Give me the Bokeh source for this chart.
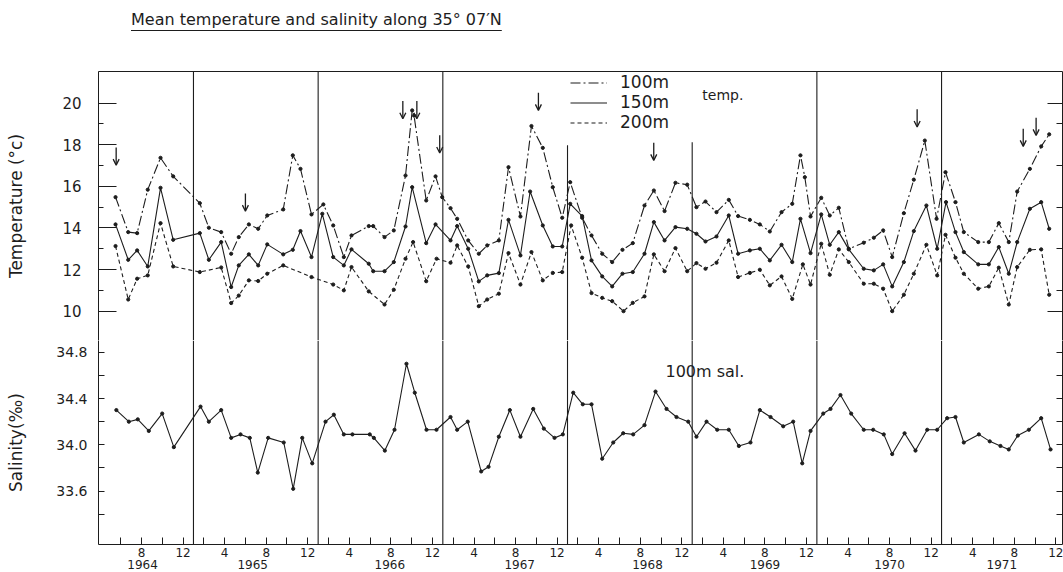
from bokeh.plotting import figure
from bokeh.layouts import column
from bokeh.models import (Range1d, LinearAxis, FixedTicker, CustomJSTickFormatter,
                          PrintfTickFormatter, Label, Legend, LegendItem, Arrow,
                          OpenHead, ColumnDataSource, Div)
from bokeh.embed import file_html
from bokeh.resources import INLINE

# Time is counted in months: 1 = Jan 1964, 13 = Jan 1965, ... 96 = Dec 1971.

# ---- 100 m temperature (deg C) ----
months_100 = [5.50, 6.72, 7.58, 8.60, 9.83, 11.05, 13.61, 14.48, 15.67, 16.63, 17.36, 18.33,
              19.23, 20.10, 21.64, 22.56, 23.30, 24.36, 25.50, 26.45, 27.47, 28.21, 29.87, 30.30,
              31.39, 32.28, 33.41, 34.05, 34.23, 35.40, 36.30, 36.94, 37.74, 38.38, 39.44, 40.46,
              41.27, 42.39, 43.32, 44.47, 45.53, 46.62, 47.58, 48.49, 49.26, 50.41, 51.31, 52.34,
              53.30, 54.29, 55.28, 56.41, 57.31, 58.34, 59.39, 60.52, 61.41, 62.28, 63.34, 64.52,
              65.42, 66.55, 67.51, 68.47, 69.60, 70.63, 71.42, 71.84, 72.39, 73.42, 74.24, 75.11,
              76.07, 77.51, 78.48, 79.38, 80.25, 81.37, 82.33, 83.39, 84.52, 85.38, 86.34,
              87.14, 88.53, 89.55, 90.51, 91.47, 92.28, 93.50, 94.59, 95.36]
temp_100 = [15.48, 13.80, 13.75, 15.84, 17.37, 16.48, 15.19, 14.01, 13.80, 12.76, 13.56, 14.17,
            13.96, 14.60, 14.89, 17.49, 16.84, 14.65, 15.13, 14.12, 12.60, 13.64, 14.09, 14.09,
            13.56, 13.88, 16.52, 19.65, 19.40, 15.32, 16.48, 15.48, 14.95, 14.44, 13.40, 12.76,
            13.16, 13.40, 16.92, 14.55, 18.90, 17.85, 15.96, 14.49, 16.20, 14.49, 13.64, 12.76,
            12.36, 12.95, 13.27, 15.08, 15.80, 14.81, 16.17, 16.08, 15.00, 15.27, 14.76, 15.35,
            14.57, 14.39, 14.17, 13.83, 14.76, 15.16, 17.49, 16.44, 14.55, 15.45, 14.60, 14.97,
            13.00, 13.29, 13.53, 13.88, 12.60, 14.71, 16.32, 18.20, 14.44, 16.68, 15.24,
            13.80, 13.32, 13.32, 14.23, 13.32, 15.75, 16.84, 17.92, 18.50]

# ---- 150 m temperature (deg C) ----
months_150 = [5.50, 6.72, 7.58, 8.60, 9.83, 11.05, 13.61, 14.48, 15.67, 16.63, 17.36, 18.33,
              19.23, 20.10, 21.64, 22.56, 23.30, 24.36, 25.40, 26.45, 27.47, 28.21, 29.87, 30.30,
              31.39, 32.28, 33.41, 34.05, 35.40, 36.30, 37.74, 38.38, 39.44, 40.46, 41.27, 42.39,
              43.32, 44.47, 45.40, 46.62, 47.58, 48.49, 49.26, 50.41, 51.31, 52.34, 53.30, 54.29,
              55.28, 56.41, 57.31, 58.34, 59.39, 60.52, 61.41, 62.28, 63.34, 64.52, 65.42, 66.55,
              67.51, 68.47, 69.60, 70.63, 71.42, 72.39, 73.42, 74.24, 75.11, 76.07, 77.51, 78.48,
              79.38, 80.25, 81.37, 82.33, 83.54, 84.58, 85.43, 86.34, 87.14, 88.53, 89.55, 90.51,
              91.47, 92.28, 93.50, 94.59, 95.36]
temp_150 = [14.17, 12.47, 12.92, 12.15, 15.93, 13.43, 13.75, 12.47, 13.32, 11.16, 12.20, 12.73,
            12.20, 13.21, 12.73, 12.95, 13.85, 12.60, 14.68, 12.60, 12.20, 12.97, 12.28, 11.92,
            11.92, 12.36, 14.07, 15.96, 13.27, 14.17, 13.40, 14.09, 13.00, 11.43, 11.72, 11.83,
            14.39, 12.68, 15.75, 14.12, 13.11, 13.11, 15.16, 14.57, 12.44, 11.67, 11.19, 11.80,
            11.88, 12.76, 14.28, 13.40, 14.04, 13.96, 13.72, 13.35, 13.59, 14.60, 12.76, 12.92,
            13.00, 12.44, 13.19, 12.36, 14.44, 12.79, 14.65, 13.19, 13.80, 12.97, 12.04, 11.96,
            12.25, 11.19, 12.36, 13.85, 15.08, 13.00, 15.24, 13.80, 12.84, 12.25, 12.25, 13.08,
            11.80, 13.32, 14.92, 15.24, 13.96]

# ---- 200 m temperature (deg C) ----
months_200 = [5.50, 6.72, 7.58, 8.60, 9.83, 11.05, 13.61, 15.67, 16.63, 17.36, 18.33, 19.23,
              20.10, 21.64, 24.36, 26.45, 27.47, 28.21, 29.87, 31.39, 32.28, 33.41, 34.14, 35.40,
              36.40, 37.74, 38.38, 39.44, 40.46, 41.27, 42.39, 43.32, 44.47, 45.53, 46.62, 47.58,
              48.49, 49.35, 50.41, 51.31, 52.34, 53.30, 54.39, 55.28, 56.41, 57.31, 58.34, 59.39,
              60.52, 61.41, 62.28, 63.34, 64.52, 65.42, 66.55, 67.51, 68.47, 69.60, 70.63, 71.65,
              72.39, 73.42, 74.24, 75.11, 76.07, 77.51, 78.48, 79.38, 80.25, 81.37, 82.33, 83.54,
              84.58, 85.38, 86.34, 87.14, 88.53, 89.55, 90.51, 91.47, 92.28, 93.50, 94.59, 95.36]
temp_200 = [13.13, 10.56, 11.56, 11.72, 14.23, 12.15, 11.88, 12.10, 10.39, 10.75, 11.48, 11.45,
            11.80, 12.20, 11.64, 11.28, 11.00, 12.12, 10.95, 10.32, 11.03, 12.52, 13.32, 11.44,
            12.52, 12.33, 13.16, 12.15, 10.24, 10.56, 10.84, 12.79, 11.28, 12.84, 11.48, 11.84,
            11.88, 14.12, 12.57, 10.87, 10.64, 10.48, 10.00, 10.40, 10.71, 12.73, 11.92, 13.03,
            11.92, 12.31, 12.04, 12.33, 13.40, 11.64, 11.84, 11.99, 11.24, 11.67, 10.59, 12.25,
            11.28, 13.24, 11.75, 12.97, 12.36, 11.32, 11.32, 11.08, 10.00, 10.79, 11.80, 13.19,
            11.72, 13.67, 12.57, 11.80, 11.08, 11.19, 12.09, 10.32, 12.12, 12.95, 12.97, 10.79]

# ---- 100 m salinity (per mille) ----
months_sal = [5.58, 6.78, 7.64, 8.70, 9.99, 11.11, 13.68, 14.48, 15.67, 16.63, 17.53, 18.42,
              19.19, 20.19, 21.69, 22.60, 23.47, 24.43, 25.71, 26.51, 27.47, 28.30, 29.97, 30.36,
              31.42, 32.35, 33.50, 34.30, 35.43, 36.39, 37.74, 38.38, 39.40, 40.69, 41.40, 42.39,
              43.45, 44.47, 45.70, 46.72, 47.75, 48.55, 49.55, 50.47, 51.31, 52.34, 53.40, 54.36,
              55.32, 56.41, 57.47, 58.53, 59.49, 60.62, 61.41, 62.38, 63.41, 64.52, 65.49, 66.61,
              67.51, 68.54, 69.76, 70.72, 71.59, 72.39, 73.61, 74.31, 75.27, 76.30, 77.51, 78.42,
              79.44, 80.25, 81.44, 82.49, 83.62, 84.58, 85.54, 86.34, 87.14, 88.59, 89.64, 90.67,
              91.47, 92.34, 93.40, 94.59, 95.49]
salinity = [34.30, 34.20, 34.22, 34.12, 34.27, 33.98, 34.33, 34.20, 34.30, 34.06, 34.09, 34.06,
            33.76, 34.06, 34.02, 33.62, 34.06, 33.84, 34.20, 34.26, 34.09, 34.09, 34.09, 34.06,
            33.95, 34.13, 34.70, 34.45, 34.13, 34.13, 34.24, 34.13, 34.20, 33.77, 33.81, 34.07,
            34.30, 34.07, 34.31, 34.14, 34.06, 34.09, 34.45, 34.35, 34.35, 33.88, 34.02, 34.10,
            34.09, 34.17, 34.46, 34.31, 34.24, 34.20, 34.07, 34.20, 34.13, 34.13, 33.99, 34.02,
            34.30, 34.24, 34.16, 34.20, 33.84, 34.12, 34.27, 34.31, 34.43, 34.27, 34.13, 34.13,
            34.09, 33.92, 34.10, 33.95, 34.13, 34.13, 34.23, 34.24, 34.02, 34.09, 34.03, 33.99,
            33.96, 34.08, 34.13, 34.23, 33.96]

# ---- event arrows (month, temperature at arrow tail) ----
arrow_month = [5.56, 18.0, 33.15, 34.5, 36.7, 46.2, 57.3, 82.65, 92.86, 94.1]
arrow_top = [17.87, 15.66, 20.1, 20.1, 18.45, 20.5, 18.1, 19.7, 18.77, 19.3]

# ---- year dividers (January of each year) and how high they reach ----
year_start = [13, 25, 37, 49, 61, 73, 85]
divider_top = [21.52, 21.52, 21.52, 17.97, 18.12, 21.52, 21.52]

# ---- tick labels ----
years = ["1964", "1965", "1966", "1967", "1968", "1969", "1970", "1971"]
year_label_pos = [8.1, 18.7, 31.9, 44.4, 56.7, 68.0, 80.0, 90.8]
month_label_pos = [8, 12] + [12 * k + m for k in range(1, 8) for m in (4, 8, 12)]
month_label_txt = ["8", "12"] + [str(m) for k in range(1, 8) for m in (4, 8, 12)]
month_minor_pos = [6 + 4 * k for k in range(23)]
temp_ticks = [10, 12, 14, 16, 18, 20]
temp_minor = [11, 13, 15, 17, 19]
sal_ticks = [33.6, 34.0, 34.4, 34.8]
sal_minor = [33.4, 33.8, 34.2, 34.6]

INK = "#1d1d1d"
FONT = "DejaVu Sans"
X0, X1 = 3.86, 96.64
T0, T1 = 8.59, 21.52
S0, S1 = 33.139, 34.901
W = 1063
x_range = Range1d(X0, X1)
BLANK = CustomJSTickFormatter(code="return '';")


def bare(fig):
    fig.grid.visible = False
    fig.outline_line_color = None
    fig.background_fill_color = "white"
    fig.border_fill_color = "white"


def style_axis(ax):
    ax.axis_line_color = INK
    ax.major_tick_line_color = INK
    ax.minor_tick_line_color = INK
    ax.major_label_text_color = INK
    ax.major_label_text_font = FONT
    ax.axis_label_text_font = FONT
    ax.axis_label_text_font_style = "normal"
    ax.axis_label_text_color = INK


def right_ticks(fig, ticks, minor):
    ax = LinearAxis(ticker=FixedTicker(ticks=ticks, minor_ticks=minor), formatter=BLANK,
                    major_tick_in=15, major_tick_out=0, minor_tick_in=6, minor_tick_out=0,
                    major_label_standoff=0)
    style_axis(ax)
    fig.add_layout(ax, "right")


# ---------- heading, underlined ----------
head = Div(text=("<div style=\"padding: 11px 0 0 131px; font-family: 'DejaVu Sans'; "
                 "font-size: 16px; color: #1d1d1d; line-height: 18px; white-space: nowrap;\">"
                 "<span style=\"text-decoration: underline; text-underline-offset: 5px; "
                 "text-decoration-thickness: 1.4px;\">"
                 "Mean temperature and salinity along 35° 07′N</span></div>"),
           width=W, height=40, margin=(0, 0, 0, 0))

# ---------- temperature panel ----------
pt = figure(width=W, height=300, output_backend="svg", toolbar_location=None,
            x_range=x_range, y_range=Range1d(T0, T1), x_axis_location=None,
            min_border_left=98, min_border_right=1, min_border_top=31, min_border_bottom=0)
bare(pt)
ta = pt.yaxis[0]
style_axis(ta)
ta.ticker = FixedTicker(ticks=temp_ticks, minor_ticks=temp_minor)
ta.major_tick_in, ta.major_tick_out = 18, 0
ta.minor_tick_in, ta.minor_tick_out = 5, 0
ta.major_label_standoff = 17
ta.major_label_text_font_size = "15px"
ta.axis_label = "Temperature (°c)"
ta.axis_label_text_font_size = "17px"
ta.axis_label_standoff = 33
top_line = LinearAxis(ticker=FixedTicker(ticks=[], minor_ticks=[]), formatter=BLANK,
                      major_tick_out=0, minor_tick_out=0, major_label_standoff=0)
style_axis(top_line)
pt.add_layout(top_line, "above")
right_ticks(pt, [10, 20], temp_minor)

pt.segment(x0=year_start, y0=[T0] * len(year_start), x1=year_start, y1=divider_top,
           line_color=INK, line_width=1.1)

l100 = pt.line(months_100, temp_100, line_color=INK, line_width=1.1, line_dash="10 3 2 3")
pt.scatter(months_100, temp_100, size=3.2, color=INK)
l150 = pt.line(months_150, temp_150, line_color=INK, line_width=1.1)
pt.scatter(months_150, temp_150, size=3.2, color=INK)
l200 = pt.line(months_200, temp_200, line_color=INK, line_width=1.1, line_dash="4 3")
pt.scatter(months_200, temp_200, size=3.2, color=INK)

arrow_src = ColumnDataSource(dict(x=arrow_month, y0=arrow_top,
                                  y1=[t - 0.85 for t in arrow_top]))
pt.add_layout(Arrow(source=arrow_src, x_start="x", y_start="y0", x_end="x", y_end="y1",
                    line_color=INK, line_width=1.3,
                    end=OpenHead(size=6, line_color=INK, line_width=1.3)))

legend = Legend(items=[LegendItem(label="100m", renderers=[l100]),
                       LegendItem(label="150m", renderers=[l150]),
                       LegendItem(label="200m", renderers=[l200])],
                location=(472, 208), orientation="vertical",
                glyph_width=37, glyph_height=19, label_height=19, label_standoff=13,
                spacing=0, padding=0, margin=0, border_line_color=None,
                background_fill_alpha=0, label_text_font=FONT,
                label_text_font_size="17px", label_text_color=INK)
pt.add_layout(legend)
pt.add_layout(Label(x=61.97, y=20.37, text="temp.", text_font=FONT, text_font_size="14px",
                    text_color=INK, text_baseline="middle"))

# ---------- salinity panel ----------
ps = figure(width=W, height=232, output_backend="svg", toolbar_location=None,
            x_range=x_range, y_range=Range1d(S0, S1),
            min_border_left=98, min_border_right=1, min_border_top=0, min_border_bottom=28)
bare(ps)
sa = ps.yaxis[0]
style_axis(sa)
sa.ticker = FixedTicker(ticks=sal_ticks, minor_ticks=sal_minor)
sa.formatter = PrintfTickFormatter(format="%.1f")
sa.major_tick_in, sa.major_tick_out = 6, 0
sa.minor_tick_in, sa.minor_tick_out = 6, 0
sa.major_label_standoff = 11
sa.major_label_text_font_size = "14px"
sa.axis_label = "Salinity(‰)"
sa.axis_label_text_font_size = "17px"
sa.axis_label_standoff = 27
right_ticks(ps, [], sal_ticks + sal_minor)

xa = ps.xaxis[0]
style_axis(xa)
xa.ticker = FixedTicker(ticks=month_label_pos, minor_ticks=month_minor_pos)
xa.formatter = CustomJSTickFormatter(args=dict(pos=month_label_pos, txt=month_label_txt),
                                     code="const i = pos.indexOf(tick); return i >= 0 ? txt[i] : '';")
xa.major_tick_in, xa.major_tick_out = 7, 0
xa.minor_tick_in, xa.minor_tick_out = 7, 0
xa.major_label_standoff = 3
xa.major_label_text_font_size = "12px"

ya = LinearAxis(ticker=FixedTicker(ticks=year_label_pos, minor_ticks=[]),
                formatter=CustomJSTickFormatter(args=dict(pos=year_label_pos, txt=years),
                                                code="const i = pos.indexOf(tick); return i >= 0 ? txt[i] : '';"),
                major_tick_in=0, major_tick_out=0, minor_tick_in=0, minor_tick_out=0,
                major_label_standoff=0, major_label_text_font_size="12px")
style_axis(ya)
ya.axis_line_color = None
ps.add_layout(ya, "below")

ps.segment(x0=year_start, y0=[S0] * len(year_start), x1=year_start, y1=[S1] * len(year_start),
           line_color=INK, line_width=1.1)
ps.line(months_sal, salinity, line_color=INK, line_width=1.1)
ps.scatter(months_sal, salinity, size=3.2, color=INK)
ps.add_layout(Label(x=58.43, y=34.636, text="100m sal.", text_font=FONT,
                    text_font_size="16px", text_color=INK, text_baseline="middle"))

layout = column(head, pt, ps, spacing=0)
open("out.html", "w").write(file_html(layout, INLINE))
